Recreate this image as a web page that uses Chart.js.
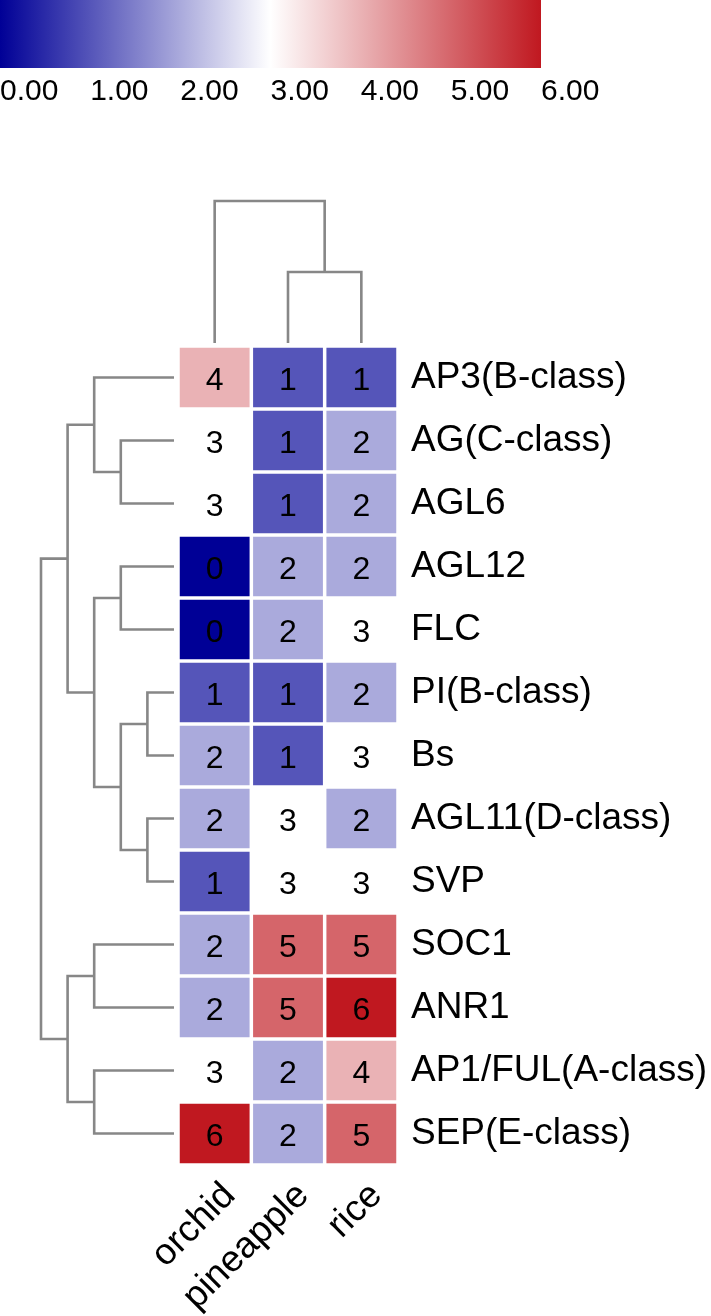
<!DOCTYPE html>
<html>
<head>
<meta charset="utf-8">
<script src="https://cdn.jsdelivr.net/npm/chart.js@4.4.1/dist/chart.umd.min.js"></script>
<style>
html, body { margin: 0; padding: 0; background: #fff; }
#wrap { width: 711px; height: 1316px; position: relative; }
</style>
</head>
<body>
<div id="wrap"><canvas id="heat"></canvas></div>
<script>
var genes = ['AP3(B-class)', 'AG(C-class)', 'AGL6', 'AGL12', 'FLC', 'PI(B-class)', 'Bs',
             'AGL11(D-class)', 'SVP', 'SOC1', 'ANR1', 'AP1/FUL(A-class)', 'SEP(E-class)'];
var species = ['orchid', 'pineapple', 'rice'];
var orchid    = [4, 3, 3, 0, 0, 1, 2, 2, 1, 2, 2, 3, 6];
var pineapple = [1, 1, 1, 2, 2, 1, 1, 3, 3, 5, 5, 2, 2];
var rice      = [1, 2, 2, 2, 3, 2, 3, 2, 3, 5, 6, 4, 5];
var colorTicks = [0, 1, 2, 3, 4, 5, 6];

// hclust style merges: negative = leaf number, positive = earlier merge (1-based)
var rowMerge = [[-2, -3], [-1, 1], [-4, -5], [-6, -7], [-8, -9], [4, 5],
                [3, 6], [2, 7], [-10, -11], [-12, -13], [9, 10], [8, 11]];
var rowHeight = [2, 3, 2, 1, 1, 2, 3, 4, 3, 3, 4, 5];
var colMerge = [[-2, -3], [-1, 1]];
var colHeight = [1, 2];

var FONT = "'Liberation Sans', Arial, Helvetica, sans-serif";
Chart.defaults.font.family = FONT;
Chart.defaults.color = '#000';

var low = [0, 0, 150], mid = [255, 255, 255], high = [192, 24, 32];

function heatColor(v) {
    var a, b, t;
    if (v <= 3) { a = low; b = mid; t = v / 3; }
    else { a = mid; b = high; t = (v - 3) / 3; }
    var c = [0, 1, 2].map(function(k){ return Math.round(a[k] + (b[k] - a[k]) * t); });
    return 'rgb(' + c.join(',') + ')';
}

var columns = [orchid, pineapple, rice];
var datasets = [];

columns.forEach(function(vals, c){
    datasets.push({
        type: 'bar',
        label: species[c],
        indexAxis: 'y',
        xAxisID: 'x',
        yAxisID: 'y',
        data: vals.map(function(v, i){ return { y: i + 0.5, x: [c, c + 1], v: v }; }),
        backgroundColor: vals.map(heatColor),
        borderColor: '#ffffff',
        borderWidth: 1.75,
        borderSkipped: false,
        inflateAmount: 0,
        grouped: false,
        barPercentage: 1,
        categoryPercentage: 1
    });
});

function dendro(merge, height, rows) {
    var pos = [];
    function node(k) {
        return k < 0 ? { p: -k - 1 + 0.5, h: 0 } : { p: pos[k - 1], h: height[k - 1] };
    }
    merge.forEach(function(m, i){
        var a = node(m[0]), b = node(m[1]), h = height[i];
        pos[i] = (a.p + b.p) / 2;
        var pts = [[a.h, a.p], [h, a.p], [h, b.p], [b.h, b.p]];
        datasets.push({
            type: 'line',
            data: pts.map(function(q){ return rows ? { x: q[0], y: q[1] } : { x: q[1], y: q[0] }; }),
            xAxisID: rows ? 'xd' : 'x',
            yAxisID: rows ? 'y' : 'yd',
            borderColor: '#878787',
            borderWidth: 2.6,
            pointRadius: 0,
            fill: false,
            tension: 0,
            borderJoinStyle: 'miter',
            borderCapStyle: 'butt'
        });
    });
}
dendro(rowMerge, rowHeight, true);
dendro(colMerge, colHeight, false);

// numbers inside the cells
var cellText = {
    id: 'cellText',
    afterDatasetsDraw: function(chart){
        var ctx = chart.ctx;
        ctx.save();
        ctx.font = '32px ' + FONT;
        ctx.fillStyle = '#000';
        ctx.textAlign = 'center';
        ctx.textBaseline = 'alphabetic';
        chart.data.datasets.forEach(function(ds, d){
            if (ds.type !== 'bar') return;
            chart.getDatasetMeta(d).data.forEach(function(el, i){
                var p = el.getProps(['x', 'y', 'base']);
                ctx.fillText(String(ds.data[i].v), (p.x + p.base) / 2, p.y + 13);
            });
        });
        ctx.restore();
    }
};

// colour key at the top
var colorKey = {
    id: 'colorKey',
    afterDraw: function(chart){
        var ctx = chart.ctx;
        var w = 541, h = 68;
        ctx.save();
        var g = ctx.createLinearGradient(0, 0, w, 0);
        g.addColorStop(0, heatColor(0));
        g.addColorStop(0.5, heatColor(3));
        g.addColorStop(1, heatColor(6));
        ctx.fillStyle = g;
        ctx.fillRect(0, 0, w, h);
        ctx.font = '30px ' + FONT;
        ctx.fillStyle = '#000';
        ctx.textAlign = 'left';
        ctx.textBaseline = 'alphabetic';
        colorTicks.forEach(function(t){
            ctx.fillText(t.toFixed(2), t / 6 * w, 100);
        });
        ctx.restore();
    }
};

function noPad(s) {
    s.paddingLeft = 0; s.paddingRight = 0; s.paddingTop = 0; s.paddingBottom = 0;
}

new Chart(document.getElementById('heat'), {
    type: 'bar',
    data: { datasets: datasets },
    options: {
        responsive: true,
        maintainAspectRatio: false,
        animation: false,
        events: [],
        layout: { padding: 0 },
        plugins: { legend: { display: false }, tooltip: { enabled: false } },
        scales: {
            x: {
                type: 'linear', axis: 'x', position: 'bottom', offset: false,
                min: -2.4273, max: 3,
                grid: { display: false, drawTicks: false, offset: false }, border: { display: false },
                afterBuildTicks: function(s){ s.ticks = species.map(function(_, i){ return { value: i + 0.5 }; }); },
                afterFit: function(s){ s.height = 151; noPad(s); },
                ticks: {
                    autoSkip: false, minRotation: 45, maxRotation: 45, padding: 9, labelOffset: 15,
                    font: { size: 37 },
                    callback: function(v, i){ return species[i]; }
                }
            },
            y: {
                type: 'linear', axis: 'y', position: 'right', reverse: true, offset: false,
                min: -5.492, max: 13,
                grid: { display: false, drawTicks: false, offset: false }, border: { display: false },
                afterBuildTicks: function(s){ s.ticks = genes.map(function(_, i){ return { value: i + 0.5 }; }); },
                afterFit: function(s){ s.width = 313; noPad(s); },
                ticks: {
                    autoSkip: false, padding: 13,
                    font: { size: 37 },
                    callback: function(v, i){ return genes[i]; }
                }
            },
            xd: {
                type: 'linear', axis: 'x', position: 'bottom', display: false, offset: false,
                reverse: true, min: -8.421, max: 6.541,
                afterFit: noPad
            },
            yd: {
                type: 'linear', axis: 'y', position: 'left', display: false, offset: false,
                min: -11.577, max: 4.831,
                afterFit: noPad
            }
        }
    },
    plugins: [cellText, colorKey]
});
</script>
</body>
</html>
